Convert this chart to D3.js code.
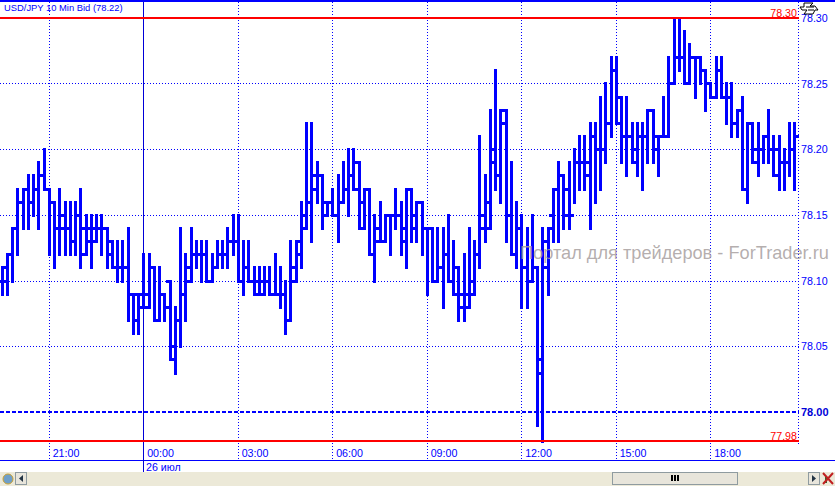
<!DOCTYPE html>
<html><head><meta charset="utf-8">
<script src="https://cdnjs.cloudflare.com/ajax/libs/d3/7.8.5/d3.min.js"></script>
<style>html,body{margin:0;padding:0;background:#fff;overflow:hidden}svg{display:block}text{font-family:"Liberation Sans",Arial,sans-serif}</style>
</head><body><svg id="c" width="835" height="486"></svg>
<script>
// prices in hundredths above 78.00
const highs=[11,12,14,17,17,18,18,19,20,17,
16,17,16,16,16,17,15,15,15,15,
14,13,13,13,14,9,9,12,12,11,
11,9,10,8,14,12,14,13,13,13,
12,13,13,14,15,15,13,13,11,11,
11,11,12,11,10,13,13,16,22,22,
19,18,16,17,18,19,20,20,19,17,
17,15,16,15,15,17,16,17,17,16,
16,14,14,14,14,15,13,11,12,14,
13,21,18,23,26,23,23,19,16,15,
14,15,11,14,14,17,19,18,19,20,
21,21,22,22,24,25,27,27,24,24,
22,22,22,23,23,21,24,27,30,30,
29,28,27,27,26,25,27,27,25,25,
23,24,22,22,22,21,23,21,21,20,
22,22];
const lows=[9,9,10,12,14,14,15,14,17,12,
11,12,12,12,12,11,12,11,13,12,
11,11,10,10,7,6,6,8,8,7,
7,7,4,3,5,7,10,11,10,10,
10,11,11,11,12,10,9,10,9,9,
9,9,9,8,6,7,10,11,14,13,
16,14,15,15,13,16,15,17,14,14,
12,10,13,13,12,14,12,11,13,13,
12,9,10,10,8,10,9,7,7,8,
9,11,13,14,17,16,13,12,11,8,
8,10,-1,-2.2,9,13,13,14,14,16,
17,17,14,16,17,19,21,22,19,18,
19,18,17,19,19,18,21,21,25,26,
25,25,24,25,23,24,24,24,22,21,
21,17,16,19,18,19,19,18,17,17,
18,17];
const opens=[10,10,12,14,16,17,16,17,18,17,
16,14,14,14,13,15,14,14,13,14,
14,12,11,11,11,9,9,8,8,11,
7,9,10,5,7,9,10,12,12,12,
10,11,12,12,13,13,10,11,10,10,
10,10,9,9,9,7,10,12,14,16,
18,18,16,16,15,16,17,18,19,16,
17,12,13,13,15,15,15,14,17,14,
16,14,14,10,11,12,10,9,9,8,
9,12,14,14,20,18,22,15,12,14,
11,10,11,4,11,15,17,18,15,15,
19,19,19,21,20,20,22,26,22,21,
21,19,21,21,23,21,21,21,25,27,
27,25,27,27,26,25,24,26,24,24,
22,23,17,22,19,20,21,20,20,19,
19,20];
const closes=[11,12,14,16,17,16,17,18,17,16,
14,15,14,13,15,12,13,14,14,14,
13,11,11,11,9,7,9,9,11,7,
9,8,4,7,9,11,12,12,12,10,
11,12,12,13,13,10,11,10,9,9,
10,9,9,9,7,11,13,15,16,17,
18,15,16,15,16,17,18,17,14,17,
12,14,13,15,15,15,13,17,15,16,
14,14,10,11,12,10,11,8,9,10,
12,15,16,19,18,23,15,12,14,11,
10,11,3,13,14,17,18,17,15,19,
19,18,21,20,20,22,26,24,21,21,
20,21,21,23,20,21,21,25,27,27,
25,27,27,26,25,24,26,24,24,22,
23,17,22,20,20,21,20,18,19,19,
20,21];
const priceTicks=[78.05,78.10,78.15,78.20,78.25,78.30];
const timeIndex=[9,27,45,63,81,99,117,135];
const timeLabels=["21:00","00:00","03:00","06:00","09:00","12:00","15:00","18:00"];
const extremes=[78.30,77.978];
const title="USD/JPY 10 Min Bid (78.22)";
const watermark="Портал для трейдеров - ForTrader.ru";

const BLUE="#0000ff",RED="#ff0000";
const svg=d3.select("#c");
const x=d3.scaleLinear().domain([0,151]).range([1.9,794.65]);
const y=d3.scaleLinear().domain([78.00,78.30]).range([412,17.8]);
const p=v=>78+v/100;
const X=i=>Math.floor(x(i)+.3), Y=v=>Math.round(y(v));
const right=798.5;

// dotted grid
const g=svg.append("g").attr("shape-rendering","crispEdges");
g.selectAll(".h").data(priceTicks).join("line")
 .attr("x1",0).attr("x2",right).attr("y1",d=>Y(d)+.5).attr("y2",d=>Y(d)+.5)
 .attr("stroke",BLUE).attr("stroke-dasharray","1 2");
g.selectAll(".v").data(timeIndex).join("line")
 .attr("x1",d=>Math.floor(x(d))+.5).attr("x2",d=>Math.floor(x(d))+.5).attr("y1",2).attr("y2",459)
 .attr("stroke",BLUE).attr("stroke-dasharray","1 2");
g.append("line").attr("x1",798.5).attr("x2",798.5).attr("y1",2).attr("y2",445).attr("stroke",BLUE).attr("stroke-dasharray","1 2");

// frame and cursor lines
g.append("rect").attr("x",0).attr("y",0).attr("width",835).attr("height",2).attr("fill",BLUE);
g.append("rect").attr("x",0).attr("y",460).attr("width",835).attr("height",1).attr("fill",BLUE);
g.append("rect").attr("x",143).attr("y",2).attr("width",1).attr("height",470).attr("fill","#0000d8");

// 78.00 dashed level
g.append("line").attr("x1",0).attr("x2",right).attr("y1",412).attr("y2",412)
 .attr("stroke",BLUE).attr("stroke-width",2).attr("stroke-dasharray","4 2");

// bars
const idx=d3.range(highs.length);
const bars=svg.append("g").attr("shape-rendering","crispEdges").attr("fill",BLUE);
bars.selectAll(".b").data(idx).join("rect")
 .attr("x",i=>X(i)-1).attr("width",3)
 .attr("y",i=>Y(p(highs[i]))-1).attr("height",i=>Y(p(lows[i]))-Y(p(highs[i]))+3);
bars.selectAll(".o").data(idx).join("rect")
 .attr("x",i=>X(i)-4).attr("width",3).attr("height",3)
 .attr("y",i=>Y(p(opens[i]))-1);
bars.selectAll(".c").data(idx).join("rect")
 .attr("x",i=>X(i)+2).attr("width",3).attr("height",3)
 .attr("y",i=>Y(p(closes[i]))-1);

// red extreme lines
svg.append("g").attr("shape-rendering","crispEdges").selectAll("rect").data(extremes).join("rect")
 .attr("x",0).attr("width",right).attr("height",2).attr("y",d=>Y(d)-1).attr("fill",RED);
svg.append("g").selectAll("text").data(extremes).join("text")
 .attr("x",797).attr("y",d=>Y(d)-1).attr("text-anchor","end").attr("font-size",10.7).attr("fill",RED)
 .text(d=>d.toFixed(2));

// axes
const yAxis=d3.axisRight(y).tickValues(priceTicks).tickSize(0).tickPadding(0).tickFormat(d3.format(".2f"));
const ya=svg.append("g").attr("transform","translate(801,0)").call(yAxis);
ya.select(".domain").remove();
ya.selectAll("text").attr("font-size",10.7).attr("fill",BLUE).attr("font-family","Liberation Sans").attr("dy","0.34em").attr("x",0);
const xAxis=d3.axisBottom(x).tickValues(timeIndex).tickSize(0).tickPadding(0).tickFormat((d,i)=>timeLabels[i]);
const xa=svg.append("g").attr("transform","translate(0,449)").call(xAxis);
xa.select(".domain").remove();
xa.selectAll("text").attr("font-size",10.7).attr("fill",BLUE).attr("font-family","Liberation Sans")
 .attr("text-anchor","start").attr("x",3).attr("dy","0.71em").attr("y",0);

svg.append("text").attr("x",801).attr("y",416).attr("font-size",11).attr("font-weight","bold").attr("font-family","Liberation Serif").attr("fill","#0000d8").text("78.00");
svg.append("text").attr("x",146).attr("y",471).attr("font-size",10.7).attr("fill",BLUE).text("26 июл");
svg.append("text").attr("x",4).attr("y",11).attr("font-size",9.4).attr("fill",BLUE).text(title);

// watermark
svg.append("text").attr("x",520).attr("y",259).attr("font-size",18.2).attr("font-family","DejaVu Sans").attr("fill","#a89f9f").attr("fill-opacity",.85).text(watermark);

// corner icon
svg.append("path").attr("d","M804 3h9l-3 3h5l3 4h-3l-2 4h-9l3-4h-5l-2-3h4z").attr("fill","#fff").attr("stroke","#000").attr("stroke-width",1);
svg.append("path").attr("d","M806 7h8M808 10h6").attr("stroke","#000").attr("stroke-width",1);

// scrollbar
const sb=svg.append("g").attr("shape-rendering","crispEdges");
sb.append("rect").attr("x",0).attr("y",472).attr("width",835).attr("height",14).attr("fill","#ece9d8");
sb.append("rect").attr("x",612.5).attr("y",472.5).attr("width",125).attr("height",12).attr("fill","#e8e5db").attr("stroke","#8f9ba0");
sb.selectAll(".g").data([0,1,2]).join("rect").attr("x",d=>671+d*3).attr("y",475).attr("width",2).attr("height",6).attr("fill","#000");
sb.append("rect").attr("x",15.5).attr("y",472.5).attr("width",11).attr("height",12).attr("fill","#e8e5db").attr("stroke","#8f9ba0");
sb.append("rect").attr("x",808.5).attr("y",472.5).attr("width",11).attr("height",12).attr("fill","#e8e5db").attr("stroke","#8f9ba0");
svg.append("path").attr("d","M23 475v7l-4-3.5z").attr("fill","#234");
svg.append("path").attr("d","M812 475v7l4-3.5z").attr("fill","#234");
svg.append("circle").attr("cx",8).attr("cy",479).attr("r",5).attr("fill","#6f9fc8").attr("stroke","#caa030");
svg.append("path").attr("d","M826 476v7").attr("stroke","#2a6a2a").attr("stroke-width",2);
svg.append("path").attr("d","M823 473l10 11M833 473l-10 11").attr("stroke","#c02020").attr("stroke-width",2);
</script></body></html>
